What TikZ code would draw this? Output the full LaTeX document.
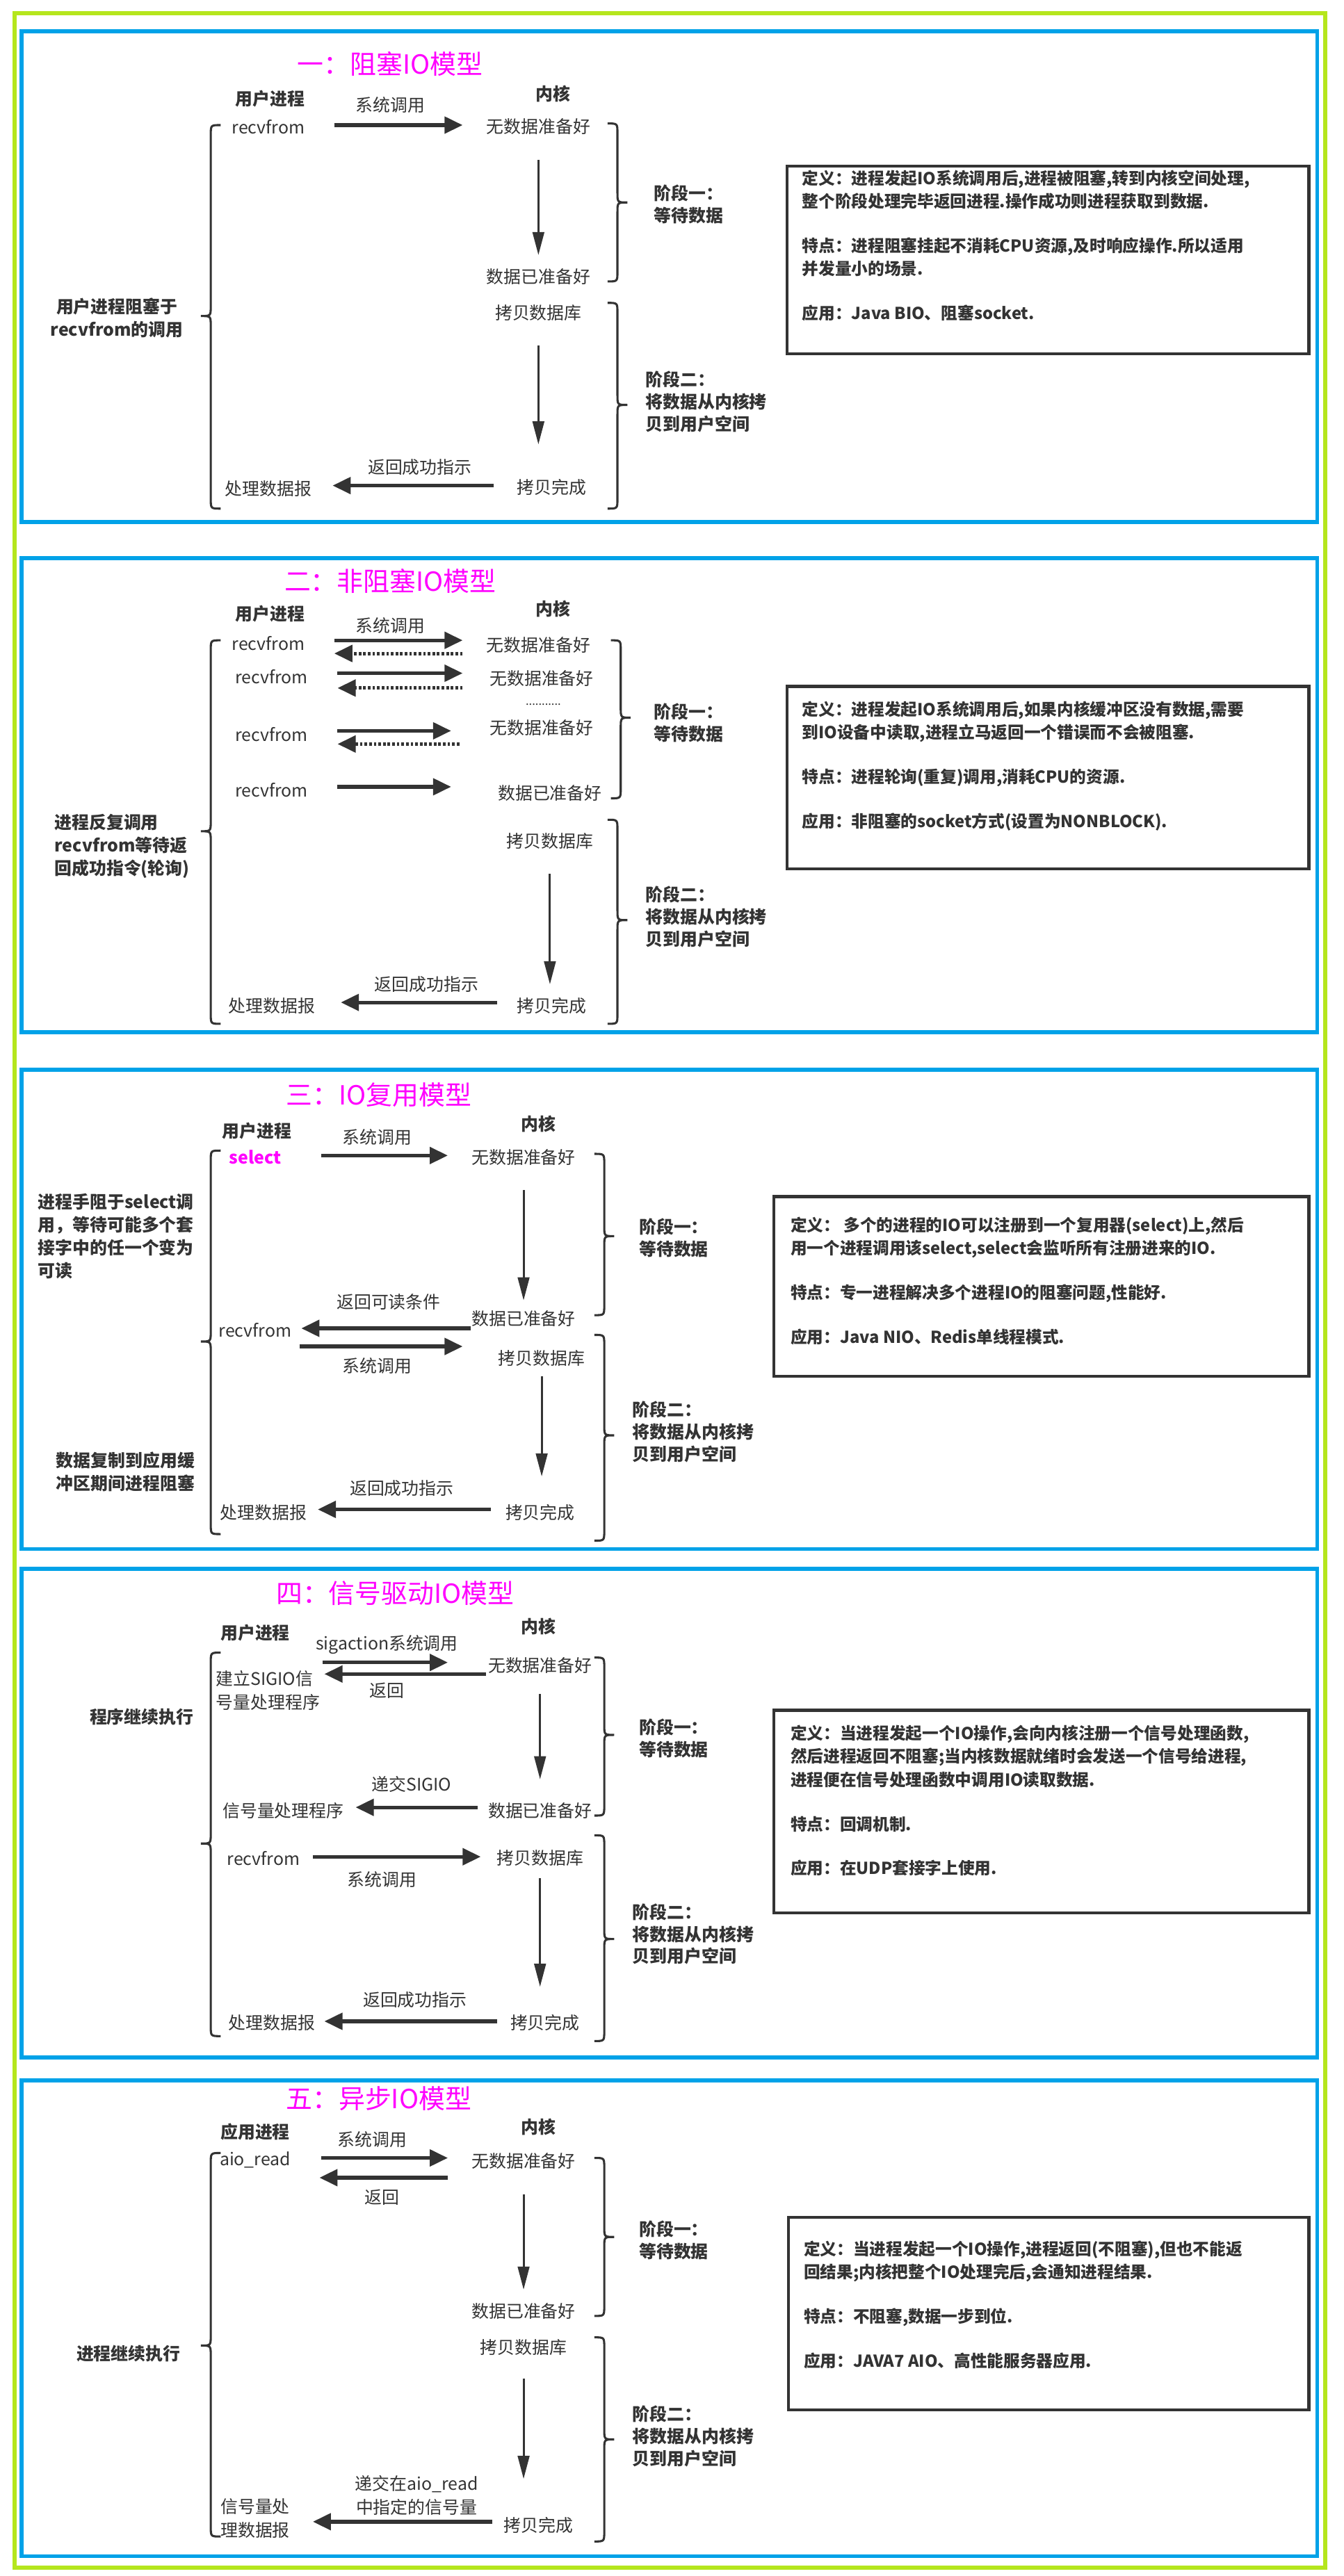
\documentclass[tikz,border=0pt]{standalone}
\usepackage{fontspec}
\setmainfont{Noto Sans CJK SC}
\usetikzlibrary{arrows.meta}
\definecolor{ink}{HTML}{333333}
\definecolor{bluef}{HTML}{00A2E8}
\definecolor{greenf}{HTML}{B5E61D}
\definecolor{mag}{HTML}{FF00FF}
\tikzset{
 t/.style={font=\fontsize{10.5}{14}\selectfont, text=ink, inner sep=0pt},
 hb/.style={font=\fontsize{10.5}{14}\selectfont\bfseries, text=ink, inner sep=0pt},
 stg/.style={font=\fontsize{10.5}{13.5}\selectfont\bfseries, text=ink, inner sep=0pt, anchor=west, align=left},
 ttl/.style={font=\fontsize{16}{18}\selectfont, text=mag, inner sep=0pt},
 boxtxt/.style={font=\fontsize{10}{14}\selectfont\bfseries, text=ink, inner sep=0pt, anchor=north west, align=left},
 infobox/.style={draw=ink, line width=1.8pt},
 panel/.style={draw=bluef, line width=2.4pt},
 outer/.style={draw=greenf, line width=2.4pt},
 brc/.style={draw=ink, line width=1.3pt},
 harr/.style={line width=2.2pt, draw=ink, -{Triangle[length=11pt,width=10pt]}},
 darr/.style={line width=2.2pt, draw=ink, dash pattern=on 1.6pt off 1.2pt, -{Triangle[length=11pt,width=10pt]}},
 varr/.style={line width=1.3pt, draw=ink, -{Triangle[length=14pt,width=7pt]}},
}
\newcommand\Ar[6]{\coordinate (#2s) at (#3,#4); \coordinate (#2e) at (#5,#6); \draw[#1] (#2s) -- (#2e);}
\newcommand\LBr[5]{\coordinate (#1) at (#2-6,#4);
 \draw[brc] (#2+6,#3) .. controls (#2,#3) .. (#2,#3+6) -- (#2,#4-6) .. controls (#2,#4) .. (#1) .. controls (#2,#4) .. (#2,#4+6) -- (#2,#5-6) .. controls (#2,#5) .. (#2+6,#5);}
\newcommand\RBr[5]{\coordinate (#1) at (#2+6,#4);
 \draw[brc] (#2-6,#3) .. controls (#2,#3) .. (#2,#3+6) -- (#2,#4-6) .. controls (#2,#4) .. (#1) .. controls (#2,#4) .. (#2,#4+6) -- (#2,#5-6) .. controls (#2,#5) .. (#2-6,#5);}
\begin{document}
\begin{tikzpicture}[x=1pt,y=-1pt]
\useasboundingbox[fill=white] (0,0) rectangle (816,1565);
\draw[outer] (9,8) rectangle (805,1560);
\draw[panel] (13,19) rectangle (800,317);
\draw[panel] (13,339) rectangle (800,627);
\draw[panel] (13,650) rectangle (800,941);
\draw[panel] (13,953) rectangle (800,1250);
\draw[panel] (13,1264) rectangle (800,1553);

% ===== Panel 1 =====
\node[ttl] (t1) at (237,39) {一：阻塞IO模型};
\node[hb] (u1) at (164,60) {用户进程};
\node[hb] (k1) at (336,57) {内核};
\node[t] (r1) at (163,77) {recvfrom};
\node[t] (c1) at (237,64) {系统调用};
\node[t] (n1) at (327,77) {无数据准备好};
\node[t] (y1) at (327,168) {数据已准备好};
\node[t] (p1) at (327,190) {拷贝数据库};
\node[t] (f1) at (335,296) {拷贝完成};
\node[t] (s1) at (255,284) {返回成功指示};
\node[t] (d1) at (163,297) {处理数据报};
\node[hb,align=center] (L1) at (71,193) {用户进程阻塞于\\recvfrom的调用};
\Ar{harr}{a11}{203}{76}{281}{76}
\Ar{varr}{a12}{327}{97}{327}{155}
\Ar{varr}{a13}{327}{210}{327}{270}
\Ar{harr}{a14}{300}{295}{202}{295}
\LBr{b11}{128}{76}{192}{309}
\RBr{b12}{375}{75}{123}{171}
\RBr{b13}{375}{184}{246}{309}
\node[stg] (g11) at (397,124) {阶段一：\\等待数据};
\node[stg] (g12) at (392,244) {阶段二：\\将数据从内核拷\\贝到用户空间};
\draw[infobox] (478,101) rectangle (795,215);
\node[boxtxt] (x1) at (487,103) {定义：进程发起IO系统调用后,进程被阻塞,转到内核空间处理,\\整个阶段处理完毕返回进程.操作成功则进程获取到数据.\\[13pt]特点：进程阻塞挂起不消耗CPU资源,及时响应操作.所以适用\\并发量小的场景.\\[13pt]应用：Java BIO、阻塞socket.};

% ===== Panel 2 =====
\node[ttl] (t2) at (237,353) {二：非阻塞IO模型};
\node[hb] (u2) at (164,373) {用户进程};
\node[hb] (k2) at (336,370) {内核};
\node[t] (c2) at (237,380) {系统调用};
\node[t] (r21) at (163,391) {recvfrom};
\node[t] (r22) at (165,411) {recvfrom};
\node[t] (r23) at (165,446) {recvfrom};
\node[t] (r24) at (165,480) {recvfrom};
\node[t] (n21) at (327,392) {无数据准备好};
\node[t] (n22) at (329,412) {无数据准备好};
\node[t] (dots) at (330,428) {\fontsize{7}{8}\selectfont ...........};
\node[t] (n23) at (329,442) {无数据准备好};
\node[t] (y2) at (334,482) {数据已准备好};
\Ar{harr}{a21}{203}{389}{281}{389}
\Ar{darr}{a22}{281}{397}{203}{397}
\Ar{harr}{a23}{205}{409}{281}{409}
\Ar{darr}{a24}{281}{418}{205}{418}
\Ar{harr}{a25}{205}{444}{274}{444}
\Ar{darr}{a26}{279}{452}{205}{452}
\Ar{harr}{a27}{205}{478}{274}{478}
\node[t] (p2) at (334,511) {拷贝数据库};
\Ar{varr}{a28}{334}{531}{334}{598}
\node[t] (f2) at (335,611) {拷贝完成};
\node[t] (s2) at (259,598) {返回成功指示};
\node[t] (d2) at (165,611) {处理数据报};
\Ar{harr}{a29}{302}{609}{207}{609}
\node[hb,align=left,anchor=west] (L2) at (33,514) {进程反复调用\\recvfrom等待返\\回成功指令(轮询)};
\LBr{b21}{128}{389}{505}{622}
\RBr{b22}{377}{389}{436}{485}
\RBr{b23}{375}{498}{559}{622}
\node[stg] (g21) at (397,439) {阶段一：\\等待数据};
\node[stg] (g22) at (392,557) {阶段二：\\将数据从内核拷\\贝到用户空间};
\draw[infobox] (478,417) rectangle (795,528);
\node[boxtxt] (x2) at (487,426) {定义：进程发起IO系统调用后,如果内核缓冲区没有数据,需要\\到IO设备中读取,进程立马返回一个错误而不会被阻塞.\\[13pt]特点：进程轮询(重复)调用,消耗CPU的资源.\\[13pt]应用：非阻塞的socket方式(设置为NONBLOCK).};

% ===== Panel 3 =====
\node[ttl] (t3) at (230,665) {三：IO复用模型};
\node[hb] (u3) at (156,687) {用户进程};
\node[hb] (k3) at (327,683) {内核};
\node[hb,text=mag] (sel) at (155,703) {select};
\node[t] (c31) at (229,691) {系统调用};
\node[t] (n3) at (318,703) {无数据准备好};
\Ar{harr}{a31}{195}{702}{272}{702}
\Ar{varr}{a32}{318}{723}{318}{790}
\node[t] (q3) at (236,791) {返回可读条件};
\node[t] (y3) at (318,801) {数据已准备好};
\node[t] (r3) at (155,808) {recvfrom};
\Ar{harr}{a33}{286}{807}{183}{807}
\Ar{harr}{a34}{182}{818}{281}{818}
\node[t] (c32) at (229,830) {系统调用};
\node[t] (p3) at (329,825) {拷贝数据库};
\Ar{varr}{a35}{329}{836}{329}{897}
\node[t] (f3) at (328,919) {拷贝完成};
\node[t] (s3) at (244,904) {返回成功指示};
\node[t] (d3) at (160,919) {处理数据报};
\Ar{harr}{a36}{298}{917}{193}{917}
\node[hb,align=left,anchor=west] (L31) at (23,751) {进程手阻于select调\\用，等待可能多个套\\接字中的任一个变为\\可读};
\node[hb,align=left,anchor=west] (L32) at (34,894) {数据复制到应用缓\\冲区期间进程阻塞};
\LBr{b31}{128}{699}{815}{932}
\RBr{b32}{367}{701}{751}{799}
\RBr{b33}{367}{811}{872}{936}
\node[stg] (g31) at (388,752) {阶段一：\\等待数据};
\node[stg] (g32) at (384,870) {阶段二：\\将数据从内核拷\\贝到用户空间};
\draw[infobox] (470,727) rectangle (795,836);
\node[boxtxt] (x3) at (480,739) {定义：\ 多个的进程的IO可以注册到一个复用器(select)上,然后\\用一个进程调用该select,select会监听所有注册进来的IO.\\[13pt]特点：专一进程解决多个进程IO的阻塞问题,性能好.\\[13pt]应用：Java NIO、Redis单线程模式.};

% ===== Panel 4 =====
\node[ttl] (t4) at (240,968) {四：信号驱动IO模型};
\node[hb] (u4) at (155,992) {用户进程};
\node[hb] (k4) at (327,988) {内核};
\node[t] (c41) at (235,999) {sigaction系统调用};
\node[t] (n4) at (328,1012) {无数据准备好};
\Ar{harr}{a41}{196}{1010}{272}{1010}
\Ar{harr}{a42}{295}{1017}{197}{1017}
\node[t] (rt4) at (235,1027) {返回};
\node[t,align=left,anchor=west] (e4) at (131,1027) {建立SIGIO信\\号量处理程序};
\node[hb] (L4) at (86,1043) {程序继续执行};
\Ar{varr}{a43}{328}{1029}{328}{1081}
\node[t] (j4) at (250,1084) {递交SIGIO};
\node[t] (h4) at (172,1100) {信号量处理程序};
\node[t] (y4) at (328,1100) {数据已准备好};
\Ar{harr}{a44}{290}{1098}{216}{1098}
\node[t] (r4) at (160,1129) {recvfrom};
\node[t] (p4) at (328,1129) {拷贝数据库};
\Ar{harr}{a45}{190}{1128}{292}{1128}
\node[t] (c42) at (232,1142) {系统调用};
\Ar{varr}{a46}{328}{1141}{328}{1207}
\node[t] (s4) at (252,1215) {返回成功指示};
\node[t] (d4) at (165,1229) {处理数据报};
\node[t] (f4) at (331,1229) {拷贝完成};
\Ar{harr}{a47}{302}{1228}{197}{1228}
\LBr{b41}{128}{1004}{1120}{1237}
\RBr{b42}{367}{1007}{1054}{1103}
\RBr{b43}{367}{1115}{1178}{1240}
\node[stg] (g41) at (388,1056) {阶段一：\\等待数据};
\node[stg] (g42) at (384,1175) {阶段二：\\将数据从内核拷\\贝到用户空间};
\draw[infobox] (470,1039) rectangle (795,1162);
\node[boxtxt] (x4) at (480,1048) {定义：当进程发起一个IO操作,会向内核注册一个信号处理函数,\\然后进程返回不阻塞;当内核数据就绪时会发送一个信号给进程,\\进程便在信号处理函数中调用IO读取数据.\\[13pt]特点：回调机制.\\[13pt]应用：在UDP套接字上使用.};

% ===== Panel 5 =====
\node[ttl] (t5) at (230,1275) {五：异步IO模型};
\node[hb] (u5) at (155,1295) {应用进程};
\node[hb] (k5) at (327,1292) {内核};
\node[t] (c5) at (226,1300) {系统调用};
\node[t] (r5) at (155,1312) {aio\_read};
\node[t] (n5) at (318,1313) {无数据准备好};
\Ar{harr}{a51}{195}{1311}{272}{1311}
\Ar{harr}{a52}{272}{1323}{194}{1323}
\node[t] (rt5) at (232,1335) {返回};
\Ar{varr}{a53}{318}{1333}{318}{1391}
\node[t] (y5) at (318,1404) {数据已准备好};
\node[t] (p5) at (318,1426) {拷贝数据库};
\Ar{varr}{a54}{318}{1445}{318}{1506}
\node[t,align=center] (j5) at (253,1516) {递交在aio\_read\\中指定的信号量};
\node[t] (f5) at (327,1534) {拷贝完成};
\Ar{harr}{a55}{299}{1532}{190}{1532}
\node[t,align=left] (h5) at (155,1530) {信号量处\\理数据报};
\node[hb] (L5) at (78,1430) {进程继续执行};
\LBr{b51}{128}{1308}{1425}{1541}
\RBr{b52}{367}{1311}{1359}{1407}
\RBr{b53}{367}{1420}{1482}{1544}
\node[stg] (g51) at (388,1361) {阶段一：\\等待数据};
\node[stg] (g52) at (384,1480) {阶段二：\\将数据从内核拷\\贝到用户空间};
\draw[infobox] (479,1347) rectangle (795,1464);
\node[boxtxt] (x5) at (488,1361) {定义：当进程发起一个IO操作,进程返回(不阻塞),但也不能返\\回结果;内核把整个IO处理完后,会通知进程结果.\\[13pt]特点：不阻塞,数据一步到位.\\[13pt]应用：JAVA7 AIO、高性能服务器应用.};
\end{tikzpicture}
\end{document}
